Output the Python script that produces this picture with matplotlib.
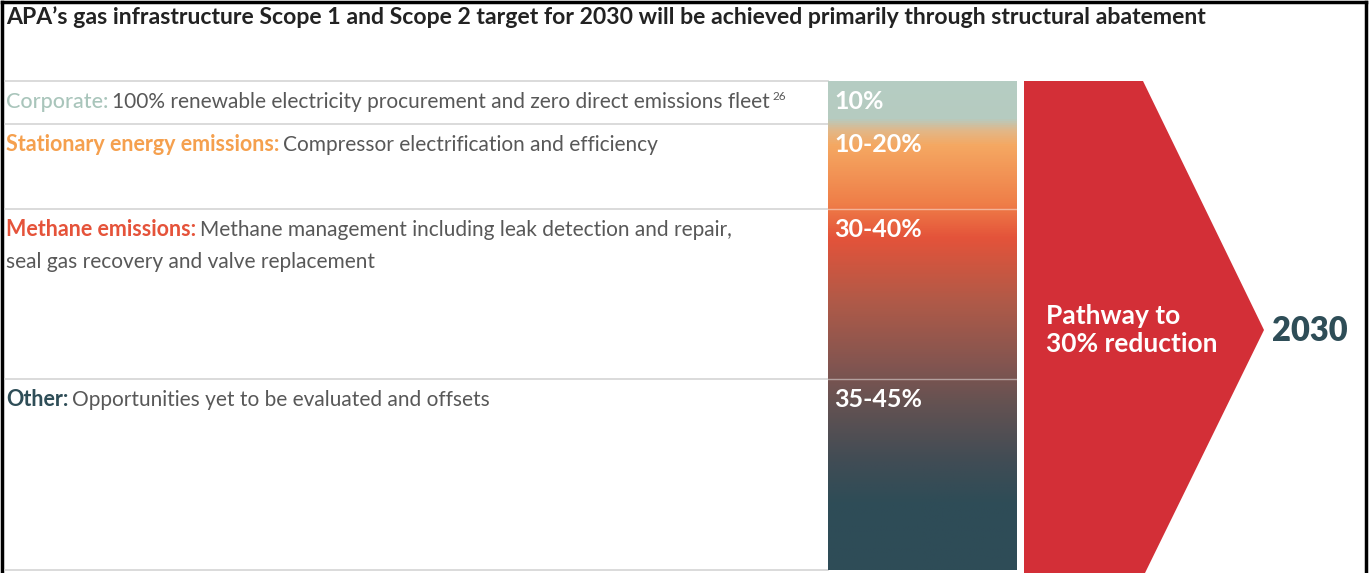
import matplotlib
matplotlib.use("Agg")
import matplotlib.pyplot as plt
import numpy as np
from matplotlib.colors import LinearSegmentedColormap
from matplotlib.patches import Polygon

plt.rcParams['font.family'] = ['Lato', 'DejaVu Sans']

title = "APA\u2019s gas infrastructure Scope 1 and Scope 2 target for 2030 will be achieved primarily through structural abatement"

categories = ["Corporate:", "Stationary energy emissions:", "Methane emissions:", "Other:"]
descriptions = [
    "100% renewable electricity procurement and zero direct emissions fleet",
    "Compressor electrification and efficiency",
    "Methane management including leak detection and repair,\nseal gas recovery and valve replacement",
    "Opportunities yet to be evaluated and offsets",
]
shares = ["10%", "10-20%", "30-40%", "35-45%"]
cat_colors = ["#a9c5bb", "#f5a04e", "#e5533a", "#2e4d57"]
cat_weights = ["medium", "bold", "bold", "bold"]
footnote = "26"
pathway = "Pathway to\n30% reduction"
target_year = "2030"

# layout in pixels (origin top-left)
W, H = 1369, 573
row_edges = [81, 124, 209, 379, 570]
bar_x0, bar_x1 = 828, 1017

fig = plt.figure(figsize=(W / 100, H / 100), dpi=100)
ax = fig.add_axes([0, 0, 1, 1])
ax.set_xlim(0, W)
ax.set_ylim(H, 0)
ax.axis('off')

# outer frame
ax.plot([1.5, 1.5], [H, 1.5], color='black', lw=2.5)
ax.plot([1.5, 1366], [1.5, 1.5], color='black', lw=2.5)
ax.plot([1366, 1366], [1.5, H], color='black', lw=2.5)

ax.text(6, 17, title, fontsize=16.6, fontweight='bold', color='#222222', va='center')

# row separators
for y in row_edges:
    ax.plot([5, bar_x0], [y, y], color='#d4d4d4', lw=1.2)

# gradient column
stops = [(0.0, '#b5cdc3'), (0.075, '#b6cbc0'), (0.10, '#e2b788'), (0.13, '#f5a862'),
         (0.25, '#ef7e48'), (0.32, '#e4533a'), (0.45, '#b05a48'), (0.58, '#835550'),
         (0.66, '#645252'), (0.78, '#404c55'), (0.86, '#2f4c57'), (1.0, '#2e4c57')]
cmap = LinearSegmentedColormap.from_list('abate', stops)
grad = np.linspace(0, 1, 512).reshape(-1, 1)
ax.imshow(grad, cmap=cmap, aspect='auto', extent=[bar_x0, bar_x1, row_edges[-1], row_edges[0]],
          interpolation='bilinear', zorder=2)
for y in row_edges[2:4]:
    ax.plot([bar_x0, bar_x1], [y, y], color='white', alpha=0.45, lw=1, zorder=3)

renderer = fig.canvas.get_renderer()
for i, (cat, desc, share) in enumerate(zip(categories, descriptions, shares)):
    y = row_edges[i] + 27
    t = ax.text(6, y, cat, fontsize=15.5, color=cat_colors[i], fontweight=cat_weights[i], va='baseline')
    w = t.get_window_extent(renderer).width
    d = ax.text(6 + w + 4, y, desc.split("\n")[0], fontsize=15, color='#585858', fontweight='normal',
                va='baseline')
    for k, extra in enumerate(desc.split("\n")[1:]):
        ax.text(6, y + 32 * (k + 1), extra, fontsize=15, color='#585858', fontweight='normal', va='baseline')
    if i == 0:
        dw = d.get_window_extent(renderer).x1
        ax.text(dw + 2, y - 8, footnote, fontsize=8.5, color='#585858', va='baseline')
    ax.text(bar_x0 + 6, y + 1, share, fontsize=18, color='white', fontweight='bold', va='baseline', zorder=4)

# chevron
chevron = Polygon([(1024, 81), (1143, 81), (1264, 330), (1145, 573), (1024, 573)],
                  closed=True, facecolor='#d32f37', edgecolor='none')
ax.add_patch(chevron)
ax.text(1046, 330, pathway, fontsize=19, fontweight='bold', color='white', va='center', linespacing=1.2)
ax.text(1272, 331, target_year, fontsize=23.5, fontweight='heavy', color='#2e4d57', va='center')

fig.savefig('out.png', dpi=100)
